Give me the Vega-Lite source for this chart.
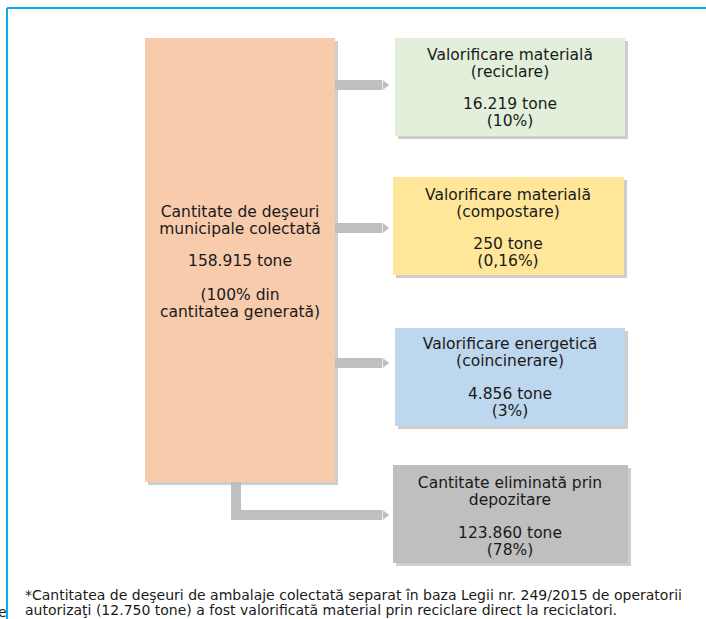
{
  "$schema": "https://vega.github.io/schema/vega-lite/v6.json",
  "width": 706,
  "height": 619,
  "autosize": {"type": "none"},
  "padding": 0,
  "background": "white",
  "config": {"view": {"stroke": null}, "font": "DejaVu Sans"},
  "datasets": {
    "boxes": [
      {"tip": "colectat", "x0": 145, "x1": 335, "y0": 38, "y1": 482},
      {"tip": "reciclare", "x0": 395, "x1": 625, "y0": 38, "y1": 136},
      {"tip": "compostare", "x0": 393, "x1": 624, "y0": 177, "y1": 275},
      {"tip": "coincinerare", "x0": 395, "x1": 625, "y0": 328, "y1": 426},
      {"tip": "depozitare", "x0": 393, "x1": 628, "y0": 465, "y1": 563}
    ],
    "lines": [
      {"tip": "colectat", "x": 240, "y": 212, "text": "Cantitate de deşeuri"},
      {"tip": "colectat", "x": 240, "y": 229, "text": "municipale colectată"},
      {"tip": "colectat", "x": 240, "y": 261, "text": "158.915 tone"},
      {"tip": "colectat", "x": 240, "y": 295, "text": "(100% din"},
      {"tip": "colectat", "x": 240, "y": 312, "text": "cantitatea generată)"},
      {"tip": "reciclare", "x": 510, "y": 55, "text": "Valorificare materială"},
      {"tip": "reciclare", "x": 510, "y": 72, "text": "(reciclare)"},
      {"tip": "reciclare", "x": 510, "y": 104, "text": "16.219 tone"},
      {"tip": "reciclare", "x": 510, "y": 121, "text": "(10%)"},
      {"tip": "compostare", "x": 508, "y": 195, "text": "Valorificare materială"},
      {"tip": "compostare", "x": 508, "y": 212, "text": "(compostare)"},
      {"tip": "compostare", "x": 508, "y": 244, "text": "250 tone"},
      {"tip": "compostare", "x": 508, "y": 261, "text": "(0,16%)"},
      {"tip": "coincinerare", "x": 510, "y": 344, "text": "Valorificare energetică"},
      {"tip": "coincinerare", "x": 510, "y": 361, "text": "(coincinerare)"},
      {"tip": "coincinerare", "x": 510, "y": 394, "text": "4.856 tone"},
      {"tip": "coincinerare", "x": 510, "y": 411, "text": "(3%)"},
      {"tip": "depozitare", "x": 510, "y": 483, "text": "Cantitate eliminată prin"},
      {"tip": "depozitare", "x": 510, "y": 500, "text": "depozitare"},
      {"tip": "depozitare", "x": 510, "y": 533, "text": "123.860 tone"},
      {"tip": "depozitare", "x": 510, "y": 550, "text": "(78%)"}
    ],
    "arrows": [
      {"arrow": "a1", "seq": 1, "x": 335, "y": 85},
      {"arrow": "a1", "seq": 2, "x": 382, "y": 85},
      {"arrow": "a2", "seq": 1, "x": 335, "y": 228},
      {"arrow": "a2", "seq": 2, "x": 382, "y": 228},
      {"arrow": "a3", "seq": 1, "x": 335, "y": 363},
      {"arrow": "a3", "seq": 2, "x": 382, "y": 363},
      {"arrow": "a4", "seq": 1, "x": 236, "y": 482},
      {"arrow": "a4", "seq": 2, "x": 236, "y": 515},
      {"arrow": "a4", "seq": 3, "x": 382, "y": 515}
    ],
    "heads": [
      {"arrow": "a1", "x": 386, "y": 85},
      {"arrow": "a2", "x": 386, "y": 228},
      {"arrow": "a3", "x": 386, "y": 363},
      {"arrow": "a4", "x": 386, "y": 515}
    ],
    "frame": [
      {"side": "top", "x": 7, "x2": 706, "y": 8, "y2": 8},
      {"side": "left", "x": 7, "x2": 7, "y": 8, "y2": 619}
    ],
    "notes": [
      {"x": 25, "y": 596, "text": "*Cantitatea de deşeuri de ambalaje colectată separat în baza Legii nr. 249/2015 de operatorii"},
      {"x": 25, "y": 611, "text": "autorizaţi (12.750 tone) a fost valorificată material prin reciclare direct la reciclatori."},
      {"x": -2, "y": 613, "text": "e"}
    ]
  },
  "layer": [
    {
      "data": {"name": "frame"},
      "mark": {"type": "rule", "color": "#00b0f0", "strokeWidth": 2},
      "encoding": {
        "x": {"field": "x", "type": "quantitative", "scale": {"domain": [0, 706], "nice": false, "zero": false}, "axis": null},
        "x2": {"field": "x2"},
        "y": {"field": "y", "type": "quantitative", "scale": {"domain": [0, 619], "reverse": true, "nice": false, "zero": false}, "axis": null},
        "y2": {"field": "y2"}
      }
    },
    {
      "data": {"name": "boxes"},
      "mark": {"type": "rect", "color": "#a6a6a6", "opacity": 0.55, "xOffset": 3, "x2Offset": 3, "yOffset": 3, "y2Offset": 3},
      "encoding": {
        "x": {"field": "x0", "type": "quantitative"},
        "x2": {"field": "x1"},
        "y": {"field": "y0", "type": "quantitative"},
        "y2": {"field": "y1"}
      }
    },
    {
      "data": {"name": "boxes"},
      "mark": {"type": "rect"},
      "encoding": {
        "x": {"field": "x0", "type": "quantitative"},
        "x2": {"field": "x1"},
        "y": {"field": "y0", "type": "quantitative"},
        "y2": {"field": "y1"},
        "color": {
          "field": "tip", "type": "nominal", "legend": null,
          "scale": {
            "domain": ["colectat", "reciclare", "compostare", "coincinerare", "depozitare"],
            "range": ["#f8cbad", "#e2efda", "#ffe699", "#bdd7ee", "#bfbfbf"]
          }
        }
      }
    },
    {
      "data": {"name": "arrows"},
      "mark": {"type": "line", "color": "#bfbfbf", "strokeWidth": 10, "strokeJoin": "miter", "strokeCap": "butt"},
      "encoding": {
        "x": {"field": "x", "type": "quantitative"},
        "y": {"field": "y", "type": "quantitative"},
        "detail": {"field": "arrow"},
        "order": {"field": "seq", "type": "quantitative"}
      }
    },
    {
      "data": {"name": "heads"},
      "mark": {"type": "point", "filled": true, "color": "#bfbfbf", "opacity": 1, "size": 400, "shape": "M -0.33 -0.5 L 0.33 0 L -0.33 0.5 Z"},
      "encoding": {
        "x": {"field": "x", "type": "quantitative"},
        "y": {"field": "y", "type": "quantitative"}
      }
    },
    {
      "data": {"name": "lines"},
      "mark": {"type": "text", "align": "center", "baseline": "middle", "fontSize": 15.5, "color": "#1a1a1a"},
      "encoding": {
        "x": {"field": "x", "type": "quantitative"},
        "y": {"field": "y", "type": "quantitative"},
        "text": {"field": "text"}
      }
    },
    {
      "data": {"name": "notes"},
      "mark": {"type": "text", "align": "left", "baseline": "middle", "fontSize": 14, "color": "#1a1a1a"},
      "encoding": {
        "x": {"field": "x", "type": "quantitative"},
        "y": {"field": "y", "type": "quantitative"},
        "text": {"field": "text"}
      }
    }
  ]
}
